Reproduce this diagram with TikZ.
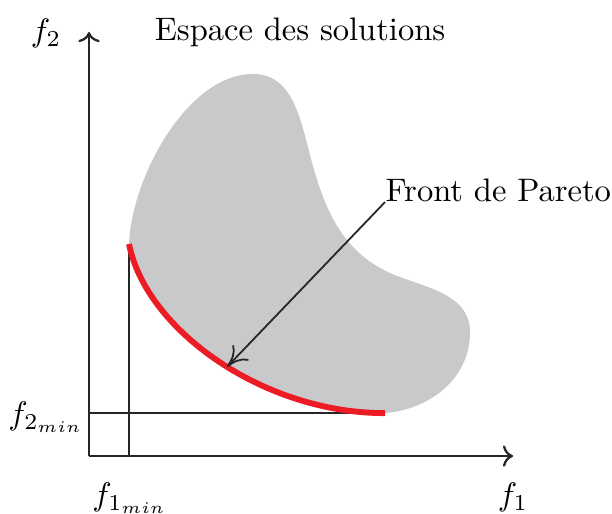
\documentclass[tikz,border=0pt]{standalone}
\usepackage{amsmath, amssymb}
\usepackage{xcolor}
\usepackage{tikz}
\usetikzlibrary{
  arrows.meta,
  positioning,
  calc
}
\definecolor{blobgray}{RGB}{200,201,203}
\definecolor{frontred}{RGB}{237,28,36}

\begin{document}
\begin{tikzpicture}[
  axis/.style={draw=black!85, line width=0.7pt},
  guide/.style={draw=black!85, line width=0.7pt},
  frontline/.style={draw=frontred, line width=1.8pt},
  callout/.style={draw=black!85, line width=0.55pt, -{To[length=2.2mm, width=2.4mm]}},
  lbl/.style={inner sep=0pt}
]
  \useasboundingbox (-0.961,-0.616) rectangle (5.648,4.925);

  % points of the picture
  \coordinate (O)    at (0,0);
  \coordinate (ytip) at (0,4.58);
  \coordinate (xtip) at (4.58,0);
  \coordinate (A)    at (0.432,2.290);
  \coordinate (B)    at (3.197,0.464);

  % solution space
  \fill[blobgray] (A) .. controls (0.62,1.35) and (1.9,0.46) .. (B)
    to[out=5, in=-90]   (4.115,1.34)
    to[out=90, in=-20]  (3.359,1.933)
    to[out=160, in=-75] (2.40,3.2)
    to[out=105, in=0]   (1.771,4.126)
    to[out=180, in=88, looseness=0.8] (A) -- cycle;

  % axes and minima
  \draw[axis, ->] (O) -- (ytip);
  \draw[axis, ->] (O) -- (xtip);
  \draw[guide] (A |- O) -- (A);
  \draw[guide] (O |- B) -- (B);

  % Pareto front
  \draw[frontline] (A) .. controls (0.62,1.35) and (1.9,0.46) .. (B)
    coordinate[pos=0.53] (hit);

  % labels
  \node[lbl] (f2)    at (-0.464,4.568) {$f_2$};
  \node[lbl] (f1)    at (4.579,-0.443) {$f_1$};
  \node[lbl] (f2min) at (-0.464,0.421) {$f_{2_{min}}$};
  \node[lbl] (f1min) at (0.443,-0.454) {$f_{1_{min}}$};
  \node[lbl, anchor=base] (space) at (2.279,4.493) {Espace des solutions};
  \node[lbl, anchor=south west] (front) at (3.197,2.743) {Front de Pareto};

  \draw[callout] (front.south west) -- (hit);
\end{tikzpicture}
\end{document}
